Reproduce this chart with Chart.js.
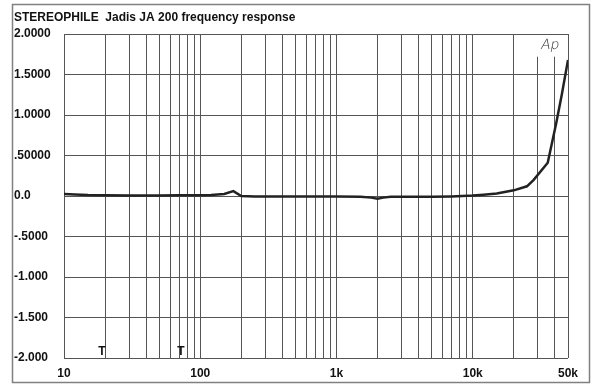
<!DOCTYPE html>
<html><head><meta charset="utf-8">
<script src="https://cdn.jsdelivr.net/npm/chart.js@4/dist/chart.umd.min.js"></script>
<style>html,body{margin:0;padding:0;background:#fff}#wrap{width:600px;height:389px}</style>
</head><body><div id="wrap"><canvas id="c" width="600" height="389"></canvas></div>
<script>
const titleText = 'STEREOPHILE  Jadis JA 200 frequency response';
const freqs = [10,12,15,20,30,40,50,70,100,120,150,175,200,250,300,500,700,1000,1500,1800,2000,2200,2500,3000,5000,7000,10000,12000,15000,20000,25000,28000,35500,41000,45000,50000];
const response = [0.025,0.02,0.012,0.008,0.005,0.005,0.006,0.008,0.01,0.012,0.025,0.06,0.0,-0.005,-0.005,-0.005,-0.005,-0.005,-0.01,-0.02,-0.035,-0.02,-0.01,-0.01,-0.01,-0.005,0.005,0.015,0.03,0.07,0.12,0.2,0.41,0.9,1.25,1.68];
const xGridValues = [10,20,30,40,50,60,70,80,90,100,200,300,400,500,600,700,800,900,1000,2000,3000,4000,5000,6000,7000,8000,9000,10000,20000,30000,40000,50000];
const xLabels = {10:'10',100:'100',1000:'1k',10000:'10k',50000:'50k'};
const yTickValues = [2,1.5,1,0.5,0,-0.5,-1,-1.5,-2];
const yTickLabels = ['2.0000','1.5000','1.0000','.50000','0.0','-.5000','-1.000','-1.500','-2.000'];
const tMarkFreqs = [19,72];
const apLabel = 'Ap';

const deco = {
  id:'deco',
  beforeDraw(chart){
    const ctx = chart.ctx;
    ctx.save();
    ctx.fillStyle='#fff'; ctx.fillRect(0,0,chart.width,chart.height);
    ctx.strokeStyle='#808080'; ctx.lineWidth=1.5;
    ctx.strokeRect(12.5,4.5,577,378);
    ctx.restore();
  },
  beforeDatasetsDraw(chart){
    const ctx = chart.ctx, xs = chart.scales.x, ys = chart.scales.y;
    ctx.save();
    const x0 = xs.getPixelForValue(25000), x1 = xs.getPixelForValue(46000);
    const yTop = ys.getPixelForValue(2)+1, yB = ys.getPixelForValue(1.72);
    ctx.fillStyle='#fff'; ctx.fillRect(x0,yTop,x1-x0,yB-yTop);
    ctx.fillStyle='#333'; ctx.font='300 14px "DejaVu Sans"';
    ctx.textAlign='center'; ctx.textBaseline='middle';
    ctx.save();
    ctx.translate(xs.getPixelForValue(37000), ys.getPixelForValue(1.86));
    ctx.transform(1,0,-0.2,1,0,0);
    ctx.fillText(apLabel, 0, 0);
    ctx.restore();
    ctx.fillStyle='#111'; ctx.font='bold 12px "Liberation Sans"';
    tMarkFreqs.forEach(f=>ctx.fillText('T', xs.getPixelForValue(f), ys.getPixelForValue(-1.92)));
    ctx.restore();
  }
};

new Chart(document.getElementById('c'), {
  type:'line',
  data:{ datasets:[{ data: freqs.map((f,i)=>({x:f,y:response[i]})), borderColor:'#222', borderWidth:2.5, pointRadius:0, tension:0, fill:false }] },
  options:{
    responsive:false, animation:false,
    layout:{ padding:{left:14,right:32,top:0,bottom:0} },
    plugins:{ legend:{display:false}, tooltip:{enabled:false},
      title:{ display:true, text:titleText, align:'start', color:'#111',
        font:{family:'"Liberation Sans"',size:12,weight:'bold',lineHeight:1.2}, padding:{top:10,bottom:9.6} } },
    scales:{
      x:{ type:'logarithmic', min:10, max:50000,
        afterBuildTicks(s){ s.ticks = xGridValues.map(v=>({value:v})); },
        afterFit(s){ s.height = 31; },
        grid:{ color:'#555', lineWidth:1, drawTicks:false },
        border:{ display:false },
        ticks:{ autoSkip:false, maxRotation:0, padding:8, color:'#111',
          font:{family:'"Liberation Sans"',size:12,weight:'bold'},
          callback:(v)=> xLabels[v] !== undefined ? xLabels[v] : '' } },
      y:{ min:-2, max:2,
        afterBuildTicks(s){ s.ticks = yTickValues.map(v=>({value:v})); },
        afterFit(s){ s.width = 50; },
        grid:{ color:'#555', lineWidth:1, drawTicks:false },
        border:{ display:false },
        ticks:{ crossAlign:'far', padding:0, color:'#111',
          font:{family:'"Liberation Sans"',size:12,weight:'bold'},
          callback:(v)=>{ const i = yTickValues.indexOf(v); return i>=0 ? yTickLabels[i] : ''; } } }
    }
  },
  plugins:[deco]
});
</script></body></html>
